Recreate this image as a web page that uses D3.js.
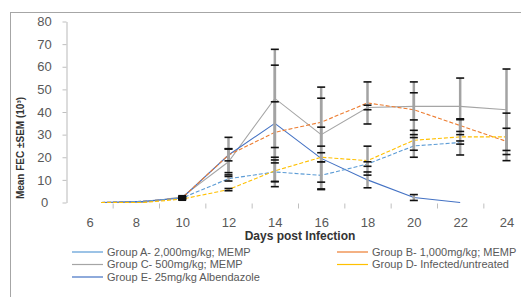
<!DOCTYPE html>
<html>
<head>
<meta charset="utf-8">
<script src="https://cdn.jsdelivr.net/npm/d3@7/dist/d3.min.js"></script>
<style>
  html, body { margin: 0; padding: 0; background: #fff; }
  svg { display: block; }
</style>
</head>
<body>
<svg id="chart" width="521" height="297"></svg>
<script>
// ---- data ----
const days = [6.5, 8.3, 10, 12, 14, 16, 18, 20, 22, 24];
const tickDays = [6, 8, 10, 12, 14, 16, 18, 20, 22, 24];
const yTicks = [0, 10, 20, 30, 40, 50, 60, 70, 80];

const seriesNames = [
  "Group A- 2,000mg/kg; MEMP",
  "Group B- 1,000mg/kg; MEMP",
  "Group C- 500mg/kg; MEMP",
  "Group D- Infected/untreated",
  "Group E- 25mg/kg Albendazole"
];
const groupA = [0, 0.5, 2, 10.5, 13.5, 12, 17, 25, 26.5, null];
const groupB = [0, 0.5, 2, 21, 31, 35.5, 44, 41, 34, 27];
const groupC = [0, 0, 2.5, 18, 46, 30, 42, 42.5, 42.5, 41];
const groupD = [0, 0, 1.5, 5.7, 14, 20, 18.5, 27.5, 29, 29];
const groupE = [0, 0.5, 2, 21, 35, 19.5, 10, 2.2, 0, null];

const semA = [0, 0, 0.5, 1, 6.5, 6, 1, 5, 0.7, null];
const semB = [0, 0, 0.5, 7.8, 13.5, 10.6, 9.3, 12.3, 2.6, 5.8];
const semC = [0, 0, 0.5, 5.8, 21.7, 21, 1, 6, 12.5, 18];
const semD = [0, 0, 0.5, 0.5, 4.8, 2, 6.4, 4.4, 8, 10.5];
const semE = [0, 0, 0.5, 2.6, 25.7, 13.8, 3.5, 1.3, 0, null];

const colors = ["#5B9BD5", "#ED7D31", "#A5A5A5", "#FFC000", "#4472C4"];
const dashes = ["4,2", "4,2", null, "4,2", null];

const values = [groupA, groupB, groupC, groupD, groupE];
const sems = [semA, semB, semC, semD, semE];

// ---- layout ----
const svg = d3.select("#chart");
const x = d3.scaleLinear().domain([6, 24]).range([89.5, 506.5]);
const y = d3.scaleLinear().domain([0, 80]).range([202.5, 21.5]);

// outer border (chart area, cropped at right/bottom)
svg.append("rect")
  .attr("x", 10.5).attr("y", 12.5)
  .attr("width", 700).attr("height", 500)
  .attr("fill", "none").attr("stroke", "#a6a6a6").attr("stroke-width", 1);

// y axis
const yAxis = svg.append("g")
  .attr("transform", "translate(66.5,0)")
  .call(d3.axisLeft(y).tickValues(yTicks).tickSize(4).tickSizeOuter(0));
yAxis.select(".domain").attr("stroke", "#d0d0d0").attr("stroke-width", 1.5);
yAxis.selectAll(".tick line").attr("stroke", "#bfbfbf");
yAxis.selectAll(".tick text")
  .attr("x", -22).attr("text-anchor", "middle")
  .attr("fill", "#595959")
  .style("font-family", "Liberation Sans, Arial, sans-serif")
  .style("font-size", "13px");

// x axis labels (no domain line)
const xAxis = svg.append("g")
  .attr("transform", "translate(0,203)")
  .call(d3.axisBottom(x).tickValues(tickDays).tickSize(0).tickPadding(15).tickFormat(d3.format("d")));
xAxis.select(".domain").remove();
xAxis.selectAll(".tick text")
  .attr("fill", "#595959")
  .style("font-family", "Liberation Sans, Arial, sans-serif")
  .style("font-size", "13px");

// x category boundary ticks
const xTickMarks = svg.append("g")
  .attr("transform", "translate(0,203.5)")
  .call(d3.axisBottom(x).tickValues(d3.range(7, 24, 2)).tickSize(5).tickFormat(""));
xTickMarks.select(".domain").remove();
xTickMarks.selectAll(".tick line").attr("stroke", "#bfbfbf");

// axis titles
svg.append("text")
  .attr("x", 300).attr("y", 240)
  .attr("text-anchor", "middle")
  .attr("fill", "#333")
  .style("font-family", "Liberation Sans, Arial, sans-serif")
  .style("font-size", "12px").style("font-weight", "bold")
  .text("Days post Infection");

svg.append("text")
  .attr("transform", "translate(24,148) rotate(-90)")
  .attr("text-anchor", "middle")
  .attr("fill", "#333")
  .style("font-family", "Liberation Sans, Arial, sans-serif")
  .style("font-size", "10px").style("font-weight", "bold")
  .text("Mean FEC \u00b1SEM (10\u00b3)");

// lines
const line = d3.line()
  .defined(d => d.v !== null)
  .x(d => x(d.day))
  .y(d => y(d.v));

const drawOrder = [2, 4, 1, 0, 3];
drawOrder.forEach(i => {
  const pts = days.map((day, k) => ({ day, v: values[i][k] }));
  svg.append("path")
    .datum(pts)
    .attr("d", line)
    .attr("fill", "none")
    .attr("stroke", colors[i])
    .attr("stroke-width", 1.1)
    .attr("stroke-dasharray", dashes[i]);
});

// error bars
const errG = svg.append("g");
values.forEach((vals, i) => {
  days.forEach((day, k) => {
    const v = vals[k], s = sems[i][k];
    if (v === null || s === null || s === 0) return;
    const cx = x(day);
    errG.append("line")
      .attr("x1", cx).attr("x2", cx)
      .attr("y1", y(v + s)).attr("y2", y(Math.max(0, v - s)))
      .attr("stroke", "#a3a3a3").attr("stroke-width", 2.5);
  });
});
values.forEach((vals, i) => {
  days.forEach((day, k) => {
    const v = vals[k], s = sems[i][k];
    if (v === null || s === null || s === 0) return;
    const cx = x(day);
    [v + s, Math.max(0, v - s)].forEach(e => {
      errG.append("line")
        .attr("x1", cx - 4).attr("x2", cx + 4)
        .attr("y1", y(e)).attr("y2", y(e))
        .attr("stroke", "#111").attr("stroke-width", 1.6);
    });
  });
});

// legend
const legendPos = [
  { lx: 72, ly: 252 },
  { lx: 337, ly: 252 },
  { lx: 72, ly: 264.5 },
  { lx: 337, ly: 264.5 },
  { lx: 72, ly: 277 }
];
seriesNames.forEach((name, i) => {
  const p = legendPos[i];
  svg.append("line")
    .attr("x1", p.lx).attr("x2", p.lx + 31)
    .attr("y1", p.ly).attr("y2", p.ly)
    .attr("stroke", colors[i]).attr("stroke-width", 1.2);
  svg.append("text")
    .attr("x", p.lx + 35).attr("y", p.ly + 3.8)
    .attr("fill", "#595959")
    .style("font-family", "Liberation Sans, Arial, sans-serif")
    .style("font-size", "11px")
    .text(name);
});
</script>
</body>
</html>
